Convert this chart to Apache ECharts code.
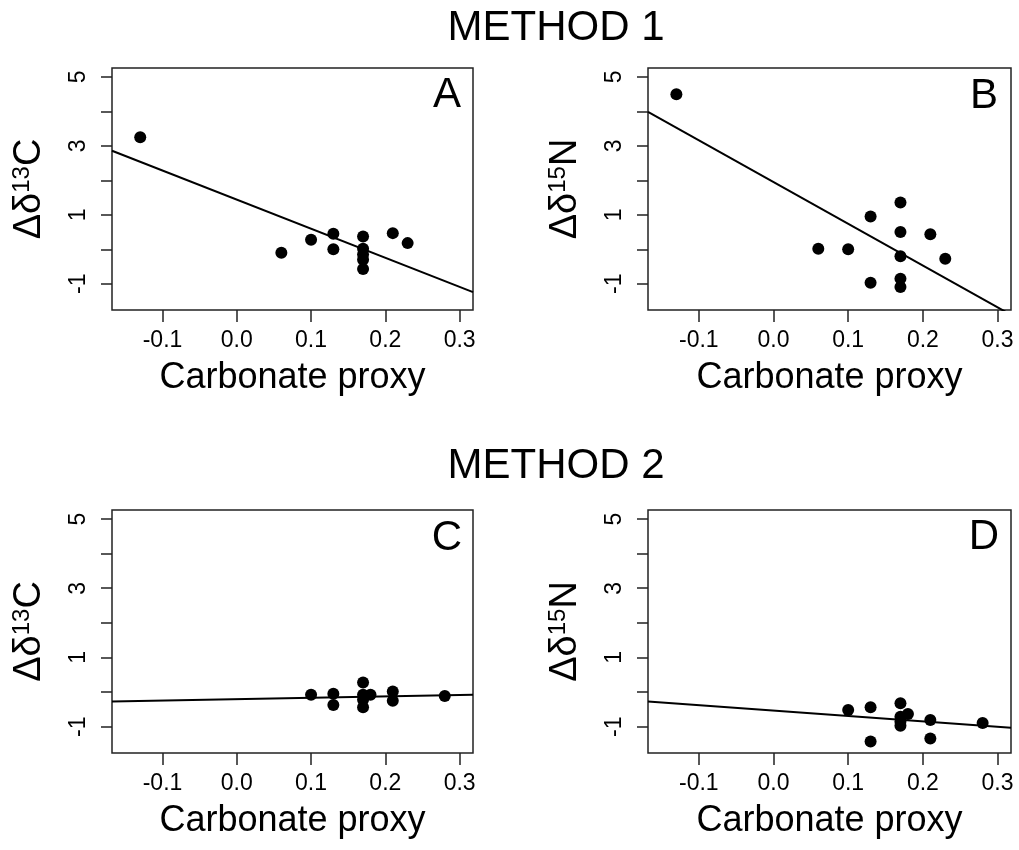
<!DOCTYPE html>
<html>
<head>
<meta charset="utf-8">
<script src="https://cdn.jsdelivr.net/npm/echarts@6/dist/echarts.min.js"></script>
<style>html,body{margin:0;padding:0;background:#fff}#c{width:1019px;height:850px}</style>
</head>
<body>
<div id="c"></div>
<script>
// ---- data ----
const xTicks = [-0.1, 0.0, 0.1, 0.2, 0.3];
const yTicks = [-1, 0, 1, 2, 3, 4, 5];
const yTickLabels = [-1, 1, 3, 5];
const xRange = [-0.168, 0.318];
const yRange = [-1.76, 5.26];

const panelA_x = [-0.13, 0.06, 0.10, 0.13, 0.13, 0.17, 0.17, 0.17, 0.17, 0.17, 0.21, 0.23];
const panelA_y = [3.25, -0.10, 0.28, 0.45, 0.00, 0.37, 0.02, -0.15, -0.30, -0.57, 0.47, 0.18];
const panelB_x = [-0.13, 0.06, 0.10, 0.13, 0.13, 0.17, 0.17, 0.17, 0.17, 0.17, 0.21, 0.23];
const panelB_y = [4.50, 0.02, 0.00, 0.95, -0.97, 1.36, 0.50, -0.20, -0.85, -1.09, 0.44, -0.27];
const panelC_x = [0.10, 0.13, 0.13, 0.17, 0.17, 0.17, 0.17, 0.18, 0.21, 0.21, 0.28];
const panelC_y = [-0.08, -0.05, -0.37, 0.28, -0.08, -0.22, -0.44, -0.08, 0.02, -0.25, -0.11];
const panelD_x = [0.10, 0.13, 0.13, 0.17, 0.18, 0.17, 0.17, 0.17, 0.21, 0.21, 0.28];
const panelD_y = [-0.52, -0.44, -1.43, -0.32, -0.63, -0.71, -0.86, -0.97, -0.81, -1.34, -0.89];

// fitted regression lines (end points at plot edges)
const fitA = [[-0.168, 2.86], [0.318, -1.24]];
const fitB = [[-0.168, 3.99], [0.318, -1.90]];
const fitC = [[-0.168, -0.27], [0.318, -0.08]];
const fitD = [[-0.168, -0.27], [0.318, -1.03]];

const xName = 'Carbonate proxy';
const panelLetters = ['A', 'B', 'C', 'D'];
const methodTitles = ['METHOD 1', 'METHOD 2'];
const yNameParts = [['13', 'C'], ['15', 'N'], ['13', 'C'], ['15', 'N']];

// ---- layout ----
const FONT = '"Liberation Sans", Arial, Helvetica, sans-serif';
const grids = [
  {left: 112, top: 68, width: 361, height: 242},
  {left: 648, top: 68, width: 363, height: 242},
  {left: 112, top: 510, width: 361, height: 243},
  {left: 648, top: 510, width: 363, height: 243}
];
const panels = [
  {x: panelA_x, y: panelA_y, fit: fitA},
  {x: panelB_x, y: panelB_y, fit: fitB},
  {x: panelC_x, y: panelC_y, fit: fitC},
  {x: panelD_x, y: panelD_y, fit: fitD}
];

const option = {
  animation: false,
  backgroundColor: '#fff',
  grid: grids.map(g => Object.assign({show: true, borderColor: '#222', borderWidth: 1.5, backgroundColor: 'transparent'}, g)),
  xAxis: grids.map((g, i) => ({
    type: 'value', gridIndex: i, min: xRange[0], max: xRange[1],
    axisLine: {show: false, onZero: false},
    axisTick: {show: true, length: 12, inside: false, customValues: xTicks, lineStyle: {color: '#222', width: 1.5}},
    axisLabel: {customValues: xTicks, formatter: v => (+v).toFixed(1), color: '#000', fontSize: 23, fontFamily: FONT, margin: 19},
    splitLine: {show: false},
    name: xName, nameLocation: 'middle', nameGap: 50,
    nameTextStyle: {fontSize: 36, color: '#000', fontFamily: FONT}
  })),
  yAxis: grids.map((g, i) => ({
    type: 'value', gridIndex: i, min: yRange[0], max: yRange[1],
    axisLine: {show: false, onZero: false},
    axisTick: {show: true, length: 11, inside: false, customValues: yTicks, lineStyle: {color: '#222', width: 1.5}},
    axisLabel: {customValues: yTickLabels, rotate: 90, color: '#000', fontSize: 23, fontFamily: FONT, margin: 22},
    splitLine: {show: false},
    name: '{a|Δδ}{s|' + yNameParts[i][0] + '}{a|' + yNameParts[i][1] + '}',
    nameLocation: 'middle', nameRotate: 90, nameGap: 62,
    nameTextStyle: {
      color: '#000', fontFamily: FONT,
      rich: {
        a: {fontSize: 38, color: '#000', fontFamily: FONT},
        s: {fontSize: 24, color: '#000', fontFamily: FONT, padding: [0, 0, 16, 0]}
      }
    }
  })),
  series: [].concat(...panels.map((p, i) => [
    {
      type: 'scatter', xAxisIndex: i, yAxisIndex: i,
      data: p.x.map((v, k) => [v, p.y[k]]),
      symbol: 'circle', symbolSize: 12,
      itemStyle: {color: '#000', opacity: 1}
    },
    {
      type: 'line', xAxisIndex: i, yAxisIndex: i,
      data: p.fit, symbol: 'none', clip: true,
      lineStyle: {color: '#000', width: 2}
    }
  ])),
  graphic: [
    {type: 'text', x: 556, y: 28, style: {text: methodTitles[0], font: '42px ' + FONT, fill: '#000', textAlign: 'center', textVerticalAlign: 'middle'}},
    {type: 'text', x: 556, y: 466, style: {text: methodTitles[1], font: '42px ' + FONT, fill: '#000', textAlign: 'center', textVerticalAlign: 'middle'}},
    {type: 'text', x: 447, y: 95, style: {text: panelLetters[0], font: '42px ' + FONT, fill: '#000', textAlign: 'center', textVerticalAlign: 'middle'}},
    {type: 'text', x: 984, y: 96, style: {text: panelLetters[1], font: '42px ' + FONT, fill: '#000', textAlign: 'center', textVerticalAlign: 'middle'}},
    {type: 'text', x: 447, y: 538, style: {text: panelLetters[2], font: '42px ' + FONT, fill: '#000', textAlign: 'center', textVerticalAlign: 'middle'}},
    {type: 'text', x: 984, y: 537, style: {text: panelLetters[3], font: '42px ' + FONT, fill: '#000', textAlign: 'center', textVerticalAlign: 'middle'}}
  ]
};

const chart = echarts.init(document.getElementById('c'), null, {renderer: 'canvas'});
chart.setOption(option);
</script>
</body>
</html>
